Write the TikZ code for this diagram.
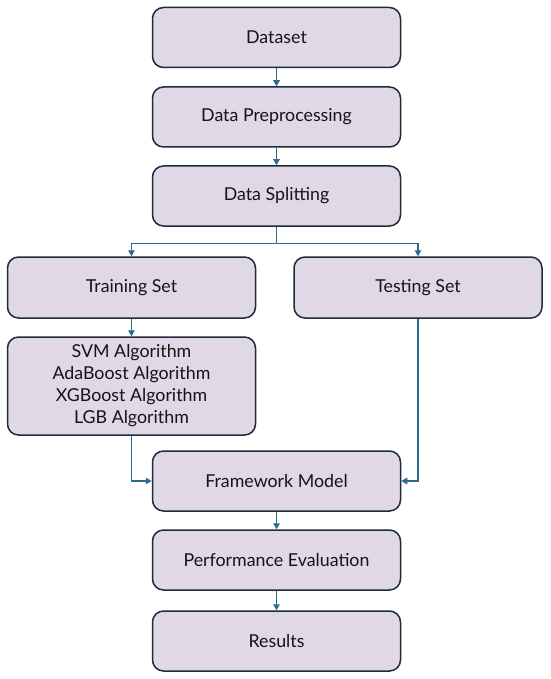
\documentclass[tikz,border=0pt]{standalone}
\usepackage{fontspec}
\setmainfont{Lato}
\usetikzlibrary{arrows.meta}
\definecolor{boxfill}{HTML}{E0D8E6}
\definecolor{boxline}{HTML}{1F2B3A}
\definecolor{flow}{HTML}{2E6A8E}

\begin{document}
\begin{tikzpicture}[x=1pt,y=-1pt,
    stage/.style={draw=boxline,line width=1.5pt,fill=boxfill,rounded corners=11pt,
      minimum width=248pt,minimum height=60pt,align=center,font=\fontsize{17.8}{22}\selectfont,
      text=black!92,inner sep=0pt},
    flowto/.style={draw=flow,line width=1.3pt,-{Triangle[length=6pt,width=6.5pt]}}]
  \useasboundingbox (0,0) rectangle (550,679);
  \node[stage] at (276.5,37.5) (data) {Dataset};
  \node[stage] at (276.5,117) (prep) {Data Preprocessing};
  \node[stage] at (276.5,196) (split) {Data Splitting};
  \node[stage,minimum height=61pt] at (131.5,287.5) (train) {Training Set};
  \node[stage,minimum height=61pt] at (418,287.5) (test) {Testing Set};
  \node[stage,minimum height=98pt] at (131.5,386) (algo) {SVM Algorithm\\AdaBoost Algorithm\\XGBoost Algorithm\\LGB Algorithm};
  \node[stage] at (276.5,481) (frame) {Framework Model};
  \node[stage] at (276.5,560) (perf) {Performance Evaluation};
  \node[stage] at (276.5,641) (res) {Results};
  \path[flowto] (data) -- (prep);
  \path[flowto] (prep) -- (split);
  \path[flowto] (split.south) -- ++(0,17) -| (train.north);
  \path[flowto] (split.south) -- ++(0,17) -| (test.north);
  \path[flowto] (train) -- (algo);
  \path[flowto] (algo.south) |- (frame.west);
  \path[flowto] (test.south) |- (frame.east);
  \path[flowto] (frame) -- (perf);
  \path[flowto] (perf) -- (res);
\end{tikzpicture}
\end{document}
